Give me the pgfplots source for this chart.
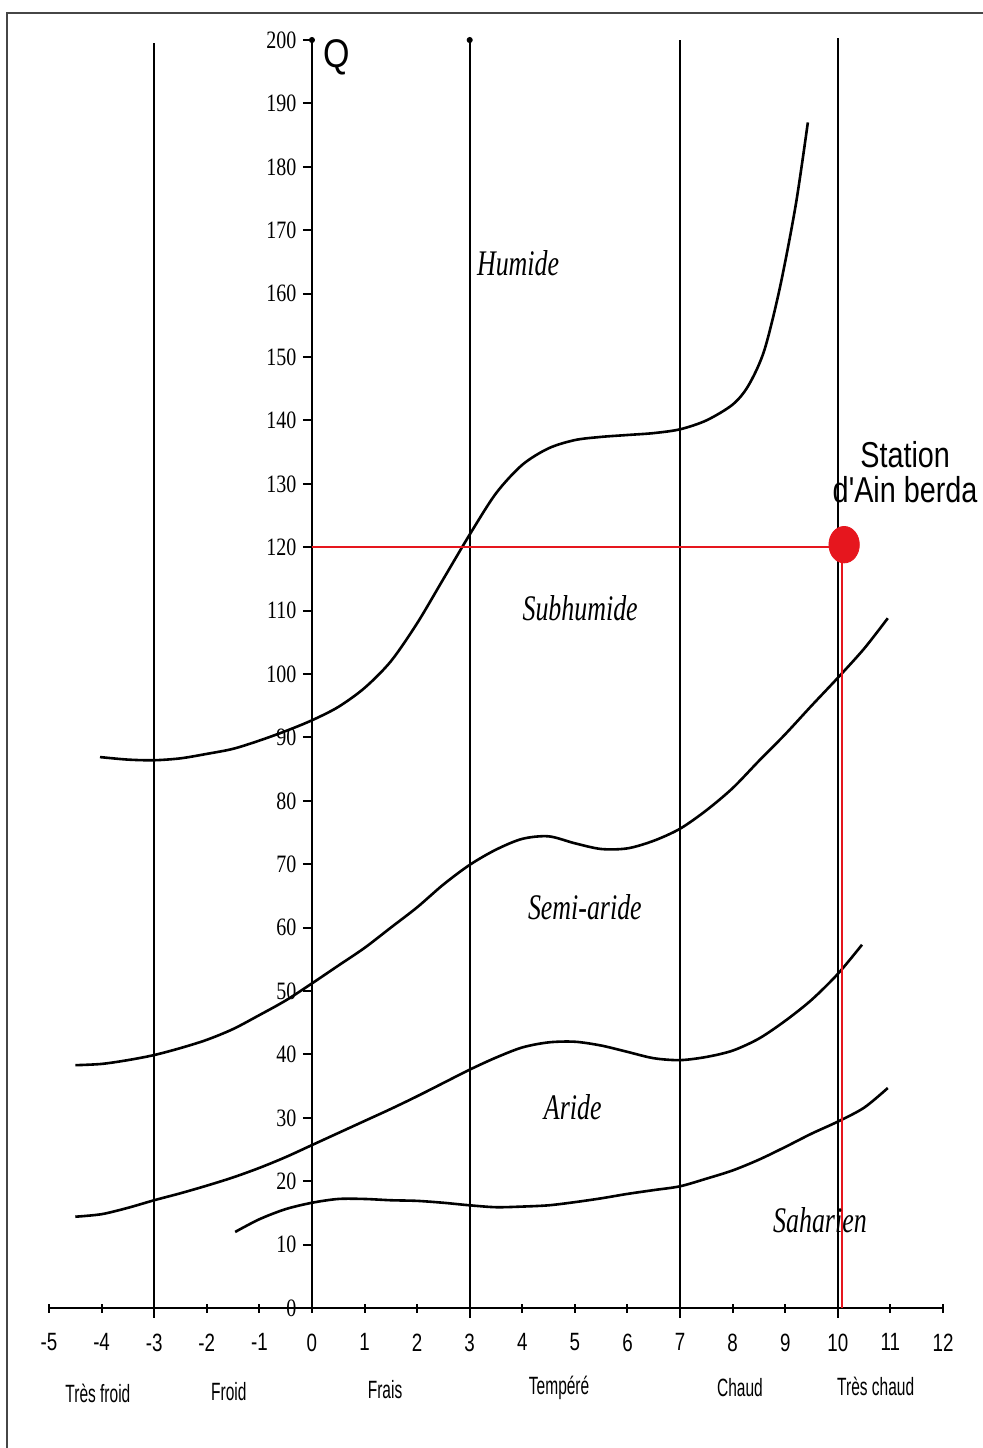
\documentclass[border=0pt]{standalone}
\usepackage{fontspec}
\setmainfont{Liberation Serif}
\newfontfamily\ytickfont[FakeStretch=0.8]{Liberation Serif}
\newfontfamily\xtickfont[FakeStretch=0.75]{Liberation Sans}
\newfontfamily\catfont[FakeStretch=0.62]{Liberation Sans}
\newfontfamily\zonefont[FakeStretch=0.72]{Liberation Serif}
\newfontfamily\stationfont[FakeStretch=0.8]{Liberation Sans}
\newfontfamily\qfont[FakeStretch=0.85]{Liberation Sans}
\usepackage{pgfplots}
\pgfplotsset{compat=1.18}
\definecolor{stred}{RGB}{230,22,30}
\definecolor{framegray}{RGB}{70,70,70}
\begin{document}
\begin{tikzpicture}
\useasboundingbox (0,0) rectangle (491.5pt,-724pt);
\draw[framegray, line width=1pt] (3.5pt,-724pt) -- (3.5pt,-6.3pt) -- (491.5pt,-6.3pt);
\begin{axis}[
  scale only axis, width=447pt, height=634pt,
  at={(24.5pt,-654pt)}, anchor=south west,
  xmin=-5, xmax=12, ymin=0, ymax=200,
  axis lines=middle,
  axis line style={line width=1.1pt, -},
  clip=false,
  hide obscured x ticks=false, hide obscured y ticks=false,
  xtick={-5,...,12}, ytick={0,10,...,200},
  major tick length=4.5pt,
  xtick style={line width=1pt, black},
  ytick style={line width=1pt, black, xshift=-2.25pt},
  /pgf/number format/assume math mode=true,
  xticklabel style={font=\xtickfont\fontsize{12.5}{14}\selectfont, yshift=-7pt},
  yticklabel style={font=\ytickfont\fontsize{12.5}{14}\selectfont, xshift=-2pt},
]
% vertical thermal boundaries
\addplot[black, line width=1pt] coordinates {(-3,-1.5) (-3,199.5)};
\addplot[black, line width=1pt] coordinates {(3,-1.5) (3,200)};
\addplot[black, line width=1pt] coordinates {(7,-1.5) (7,200)};
\addplot[black, line width=1pt] coordinates {(10,-1.5) (10,200.3)};
\addplot[only marks, mark=*, mark size=1.3pt, black] coordinates {(3,200) (0,200)};
% bioclimatic boundary curves
\addplot[black, line width=1.3pt, smooth] coordinates {
(-4.03,86.9) (-3.5,86.5) (-3,86.4) (-2.5,86.7) (-2,87.4) (-1.5,88.2) (-1,89.5)
(-0.5,91) (0,92.7) (0.5,94.8) (1,97.8) (1.5,102) (2,108) (2.5,115) (3,122)
(3.5,128.5) (4,133) (4.5,135.6) (5,136.9) (5.5,137.4) (6,137.7) (6.5,138)
(7,138.6) (7.5,140) (8,142.5) (8.3,145.5) (8.6,151) (8.9,161) (9.2,174) (9.43,187)};
\addplot[black, line width=1.3pt, smooth] coordinates {
(-4.5,38.3) (-4,38.5) (-3.5,39.1) (-3,39.9) (-2.5,41) (-2,42.3) (-1.5,44)
(-1,46.2) (-0.5,48.5) (0,51.2) (0.5,54) (1,56.8) (1.5,60) (2,63.2) (2.5,66.8)
(3,69.9) (3.5,72.3) (4,74) (4.5,74.4) (5,73.3) (5.5,72.4) (6,72.5) (6.5,73.7)
(7,75.6) (7.5,78.5) (8,82) (8.5,86.3) (9,90.5) (9.5,95) (10,99.4) (10.5,104) (10.95,108.8)};
\addplot[black, line width=1.3pt, smooth] coordinates {
(-4.5,14.4) (-4,14.8) (-3.5,15.8) (-3,17) (-2.5,18.1) (-2,19.3) (-1.5,20.6)
(-1,22.1) (-0.5,23.8) (0,25.7) (0.5,27.6) (1,29.5) (1.5,31.4) (2,33.4) (2.5,35.5)
(3,37.6) (3.5,39.5) (4,41.1) (4.5,41.9) (5,42) (5.5,41.4) (6,40.4) (6.5,39.4)
(7,39.1) (7.5,39.6) (8,40.6) (8.5,42.5) (9,45.3) (9.5,48.6) (10,52.7) (10.46,57.3)};
\addplot[black, line width=1.3pt, smooth] coordinates {
(-1.46,12) (-1,14) (-0.5,15.6) (0,16.6) (0.5,17.2) (1,17.2) (1.5,17) (2,16.9)
(2.5,16.6) (3,16.2) (3.5,15.9) (4,16) (4.5,16.2) (5,16.7) (5.5,17.3) (6,18)
(6.5,18.6) (7,19.2) (7.5,20.4) (8,21.7) (8.5,23.4) (9,25.4) (9.5,27.5) (10,29.4)
(10.5,31.6) (10.95,34.7)};
% station
\addplot[stred, line width=0.8pt] coordinates {(0,120) (10.12,120)};
\addplot[stred, line width=0.8pt] coordinates {(10.08,120) (10.08,0)};
\addplot[only marks, mark=*, mark size=7.6pt, stred, mark options={yscale=1.2}] coordinates {(10.12,120.4)};
% labels
\node[anchor=west, font=\qfont\fontsize{20}{22}\selectfont] at (axis cs:0.08,197.3) {Q};
\node[align=center, font=\stationfont\fontsize{18}{17.5}\selectfont] at (axis cs:11.28,131.9) {Station\\d'Ain berda};
\node[font=\zonefont\itshape\fontsize{18}{20}\selectfont] at (axis cs:3.92,164.8) {Humide};
\node[font=\zonefont\itshape\fontsize{18}{20}\selectfont] at (axis cs:5.10,110.4) {Subhumide};
\node[font=\zonefont\itshape\fontsize{18}{20}\selectfont] at (axis cs:5.19,63.2) {Semi-aride};
\node[font=\zonefont\itshape\fontsize{18}{20}\selectfont] at (axis cs:4.96,31.7) {Aride};
\node[font=\zonefont\itshape\fontsize{18}{20}\selectfont] at (axis cs:9.66,13.9) {Saharien};
\node[font=\catfont\fontsize{12.5}{14}\selectfont] at (axis cs:-4.07,-13.4) {Très froid};
\node[font=\catfont\fontsize{12.5}{14}\selectfont] at (axis cs:-1.58,-13.1) {Froid};
\node[font=\catfont\fontsize{12.5}{14}\selectfont] at (axis cs:1.39,-12.9) {Frais};
\node[font=\catfont\fontsize{12.5}{14}\selectfont] at (axis cs:4.70,-12.6) {Tempéré};
\node[font=\catfont\fontsize{12.5}{14}\selectfont] at (axis cs:8.14,-12.5) {Chaud};
\node[font=\catfont\fontsize{12.5}{14}\selectfont] at (axis cs:10.72,-12.3) {Très chaud};
\end{axis}
\end{tikzpicture}
\end{document}
